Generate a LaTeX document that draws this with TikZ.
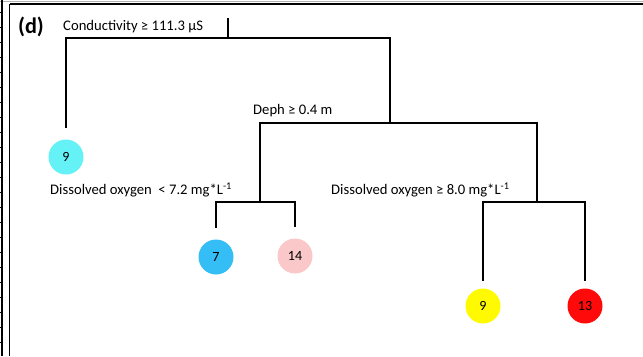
\documentclass[tikz,border=0pt]{standalone}
\usepackage{fontspec}
\setmainfont{Carlito}
\usetikzlibrary{positioning}

\definecolor{leafcyan}{RGB}{100,242,246}
\definecolor{leafblue}{RGB}{52,190,245}
\definecolor{leafpink}{RGB}{250,200,200}
\definecolor{leafyellow}{RGB}{255,250,0}
\definecolor{leafred}{RGB}{255,10,10}

\begin{document}
\begin{tikzpicture}[x=0.03cm,y=-0.03cm,font=\fontsize{12.5}{14}\selectfont,
 branch/.style={line width=1.5pt,line cap=rect},
 leaf/.style={circle,minimum size=1.05cm,inner sep=0pt,font=\fontsize{12}{14}\selectfont},
 rule/.style={inner sep=0pt,anchor=west}]
\useasboundingbox (0,0) rectangle (643,356);
% panel frame
\draw[gray!60,line width=0.6pt] (0,1) -- (643,1);
\draw[line width=1.4pt] (9.5,4) -- (643,4);
\draw[line width=1.4pt] (9.5,4) -- (9.5,356);
\draw[line width=0.9pt] (2,0) -- (2,356);
\foreach \t in {12,27,...,356} \draw[line width=0.6pt] (0,\t) -- (2,\t);
\node[font=\fontsize{19}{21}\selectfont\bfseries,inner sep=0pt] (tag) at (31,27) {(d)};

% split rules
\node[rule] (r0) at (63,27) {Conductivity ≥ 111.3 µS};
\node[rule] (r1) at (253,111) {Deph ≥ 0.4 m};
\node[rule] (r2) at (50,190) {Dissolved oxygen\ \ < 7.2 mg*L\textsuperscript{-1}};
\node[rule] (r3) at (331,190) {Dissolved oxygen ≥ 8.0 mg*L\textsuperscript{-1}};

% leaves
\node[leaf,fill=leafcyan] (n9a) at (66,157) {9};
\node[leaf,fill=leafblue] (n7) at (216,257) {7};
\node[leaf,fill=leafpink] (n14) at (295,256) {14};
\node[leaf,fill=leafyellow] (n9b) at (483,306) {9};
\node[leaf,fill=leafred] (n13) at (585,306) {13};

% junctions
\coordinate (t0) at (228,19);
\coordinate (j0) at (228,38);
\coordinate (j1) at (390,123);
\coordinate (j2) at (260,202);
\coordinate (j3) at (537,202);

\draw[branch] (t0) -- (j0);
\draw[branch] ([yshift=10pt]n9a.north) |- (j0) -| (j1);
\draw[branch] (j2) |- (j1) -| (j3);
\draw[branch] ([yshift=10pt]n7.north) |- (j2) -| ([yshift=10pt]n14.north);
\draw[branch] ([yshift=7pt]n9b.north) |- (j3) -| ([yshift=7pt]n13.north);
\end{tikzpicture}
\end{document}
